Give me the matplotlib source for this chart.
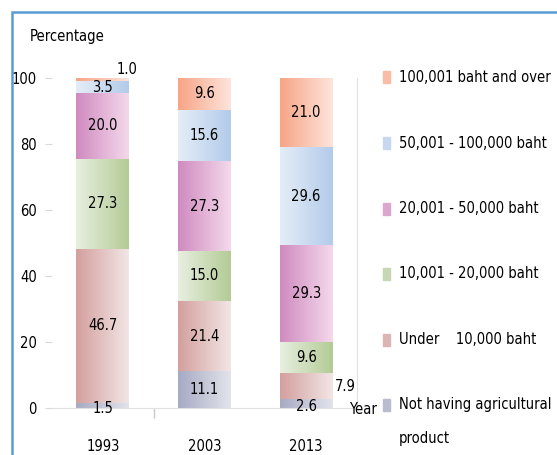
import matplotlib.pyplot as plt
import numpy as np
from matplotlib.colors import LinearSegmentedColormap
from matplotlib.patches import Rectangle

plt.rcParams['font.family'] = ['DejaVu Sans']
plt.rcParams['font.stretch'] = 'condensed'

years = ['1993', '2003', '2013']
categories = ['Not having agricultural\nproduct', 'Under    10,000 baht',
              '10,001 - 20,000 baht', '20,001 - 50,000 baht',
              '50,001 - 100,000 baht', '100,001 baht and over']
not_having = [1.5, 11.1, 2.6]
under_10k = [46.7, 21.4, 7.9]
b10k_20k = [27.3, 15.0, 9.6]
b20k_50k = [20.0, 27.3, 29.3]
b50k_100k = [3.5, 15.6, 29.6]
over_100k = [1.0, 9.6, 21.0]
series = [not_having, under_10k, b10k_20k, b20k_50k, b50k_100k, over_100k]

# gradient (left colour, right colour) per series
grads = [('#a7abc3', '#e2e3eb'), ('#d3a09e', '#f2e5e5'), ('#e8efe0', '#b3cb96'),
         ('#d08bc0', '#f4d8eb'), ('#e4edf8', '#b3cbea'), ('#f7a586', '#fde4db')]
legend_cols = ['#b9bccf', '#dcb4b3', '#c6d8b1', '#dba7cf', '#c6d7ef', '#f9bca5']

FS = 10.5

fig = plt.figure(figsize=(5.57, 4.55), dpi=100)
ax = fig.add_axes([52 / 557, 1 - 408 / 455, 305 / 557, 330 / 455])

x = np.arange(len(years))
bottom = np.zeros(len(years))
for vals, (c0, c1) in zip(series, grads):
    bars = ax.bar(x, vals, width=0.52, bottom=bottom, color='none', edgecolor='none')
    cmap = LinearSegmentedColormap.from_list('g', [c0, c1])
    grad = np.linspace(0, 1, 64).reshape(1, -1)
    for b in bars:
        x0, y0 = b.get_x(), b.get_y()
        ax.imshow(grad, cmap=cmap, aspect='auto', interpolation='bicubic',
                  extent=[x0, x0 + b.get_width(), y0, y0 + b.get_height()], zorder=1)
    for b, v in zip(bars, vals):
        cx = b.get_x() + b.get_width() / 2
        cy = b.get_y() + b.get_height() / 2
        if v == 1.0:
            ax.text(b.get_x() + b.get_width() - 0.02, b.get_y() + b.get_height() + 0.2,
                    f'{v:.1f}', ha='center', va='bottom', fontsize=FS, zorder=3)
        elif v == 7.9:
            ax.text(b.get_x() + b.get_width() + 0.02, cy, f'{v:.1f}',
                    ha='left', va='center', fontsize=FS, zorder=3)
        else:
            ax.text(cx, cy - (0.8 if v < 3 else 0), f'{v:.1f}', ha='center',
                    va='center', fontsize=FS, zorder=3)
    bottom += np.array(vals)

ax.set_xlim(-0.5, 2.5)
ax.set_ylim(0, 100)
ax.set_yticks(range(0, 101, 20))
ax.set_xticks(x)
ax.set_xticklabels(years, fontsize=FS)
ax.set_xticks([0.5], minor=True)
ax.tick_params(axis='x', which='major', length=0, pad=22)
ax.tick_params(axis='x', which='minor', length=7, color='#c8c8c8', width=1)
ax.tick_params(axis='y', length=5, color='#d9d9d9', pad=6, labelsize=FS)
for s in ['left', 'top']:
    ax.spines[s].set_visible(False)
for s in ['bottom', 'right']:
    ax.spines[s].set_color('#e0e0e0')
ax.set_facecolor('none')

fig.text(30 / 557, 1 - 37 / 455, 'Percentage', fontsize=FS, va='center')
fig.text(349 / 557, 1 - 410 / 455, 'Year', fontsize=FS, va='center')

# legend
leg_y = [77, 143, 209, 274, 340, 405]
for name, col, yy in zip(categories[::-1], legend_cols[::-1], leg_y):
    fig.add_artist(Rectangle((383 / 557, 1 - (yy + 6) / 455), 7 / 557, 12 / 455,
                             transform=fig.transFigure, color=col))
    t = fig.text(399 / 557, 1 - yy / 455, name, fontsize=FS, va='center',
                 linespacing=2.6)
    if '\n' in name:
        t.set_va('top')
        t.set_position((399 / 557, 1 - 397 / 455))

# outer frame
fig.add_artist(Rectangle((12 / 557, -0.1), 1.2, 1 - 12 / 455 + 0.1, transform=fig.transFigure,
                         fill=False, edgecolor='#5b9bd5', linewidth=1.8))

fig.savefig('out.png', dpi=100)
